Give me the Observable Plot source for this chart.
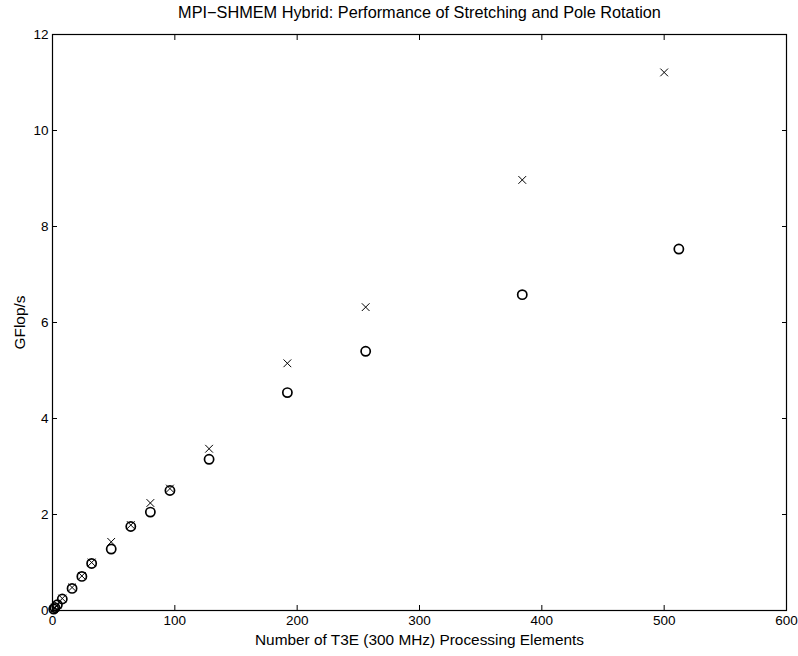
<!DOCTYPE html>
<html>
<head>
<meta charset="utf-8">
<script src="https://cdn.jsdelivr.net/npm/d3@7"></script>
<script src="https://cdn.jsdelivr.net/npm/@observablehq/plot@0.6"></script>
<style>
  html, body { margin: 0; padding: 0; background: #fff; }
  svg { display: block; }
</style>
</head>
<body>
<div id="chart"></div>
<script>
const title = "MPI\u2212SHMEM Hybrid: Performance of Stretching and Pole Rotation";
const xLabel = "Number of T3E (300 MHz) Processing Elements";
const yLabel = "GFlop/s";

const xTicks = [0, 100, 200, 300, 400, 500, 600];
const yTicks = [0, 2, 4, 6, 8, 10, 12];

// Circles series
const circlePEs = [1, 2, 4, 8, 16, 24, 32, 48, 64, 80, 96, 128, 192, 256, 384, 512];
const circleGF  = [0.03, 0.06, 0.12, 0.24, 0.46, 0.71, 0.98, 1.28, 1.75, 2.05, 2.50, 3.15, 4.54, 5.40, 6.58, 7.53];

// Crosses series
const crossPEs = [1, 2, 4, 8, 16, 24, 32, 48, 64, 80, 96, 128, 192, 256, 384, 500];
const crossGF  = [0.03, 0.06, 0.12, 0.25, 0.48, 0.72, 1.00, 1.43, 1.78, 2.24, 2.54, 3.37, 5.15, 6.32, 8.97, 11.21];

const circles = circlePEs.map((x, i) => ({x, y: circleGF[i]}));
const crosses = crossPEs.map((x, i) => ({x, y: crossGF[i]}));

const fontFamily = "'Liberation Sans', Arial, Helvetica, sans-serif";
const noLabel = () => "";

const chart = Plot.plot({
  width: 798,
  height: 656,
  marginLeft: 52,
  marginRight: 12,
  marginTop: 34,
  marginBottom: 46,
  style: {fontFamily, fontSize: "13.5px", color: "#000", background: "#fff"},
  x: {domain: [0, 600], ticks: xTicks},
  y: {domain: [0, 12], ticks: yTicks},
  marks: [
    Plot.frame({stroke: "#000", strokeWidth: 1.2}),
    Plot.axisX(xTicks, {anchor: "bottom", tickSize: -5, tickPadding: 10, stroke: "#000", strokeWidth: 1,
      label: xLabel, labelAnchor: "center", labelArrow: "none", labelOffset: 34, fontSize: 13.5}),
    Plot.axisX(xTicks, {anchor: "top", tickSize: -5, tickFormat: noLabel, stroke: "#000", label: null}),
    Plot.axisY(yTicks, {anchor: "left", tickSize: -5, tickPadding: 9, stroke: "#000", strokeWidth: 1,
      label: yLabel, labelAnchor: "center", labelArrow: "none", labelOffset: 38, fontSize: 13.5}),
    Plot.axisY(yTicks, {anchor: "right", tickSize: -5, tickFormat: noLabel, stroke: "#000", label: null}),
    Plot.dot(circles, {x: "x", y: "y", symbol: "circle", r: 4.6, fill: "none", stroke: "#000", strokeWidth: 1.7}),
    Plot.dot(crosses, {x: "x", y: "y", symbol: "times", r: 3.6, stroke: "#000", strokeWidth: 1}),
    Plot.text([title], {frameAnchor: "top", lineAnchor: "middle", dy: -22, fontSize: 16.3, fill: "#000", fontFamily})
  ]
});

// Size the axis labels (titles) to match the reference
d3.select(chart).selectAll("[aria-label='x-axis label'] text, [aria-label='y-axis label'] text")
  .attr("font-size", "15.4px");

document.getElementById("chart").appendChild(chart);
</script>
</body>
</html>
